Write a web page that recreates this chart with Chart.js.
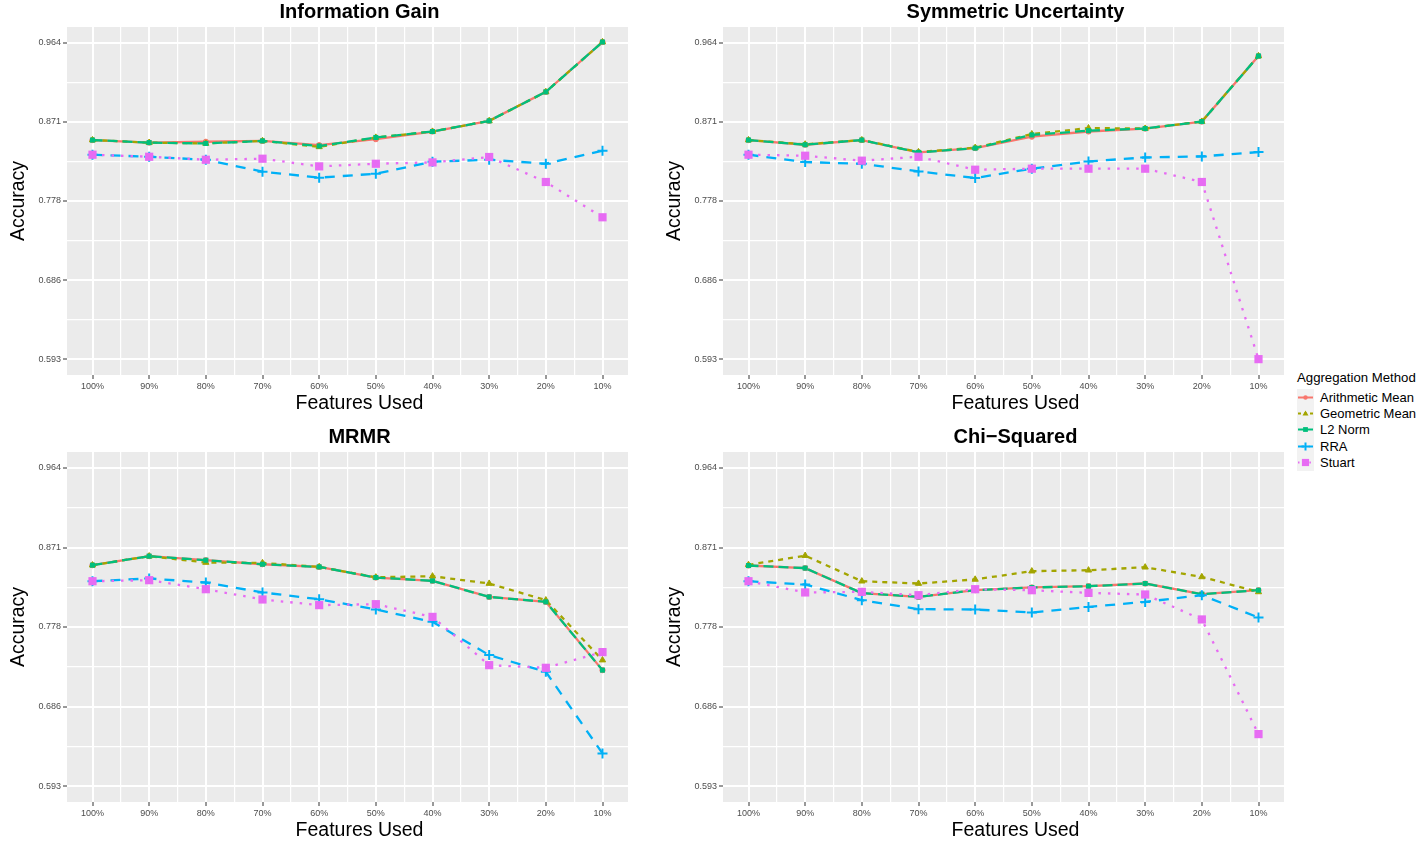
<!DOCTYPE html>
<html>
<head>
<meta charset="utf-8">
<script src="https://cdn.jsdelivr.net/npm/chart.js@4.4.0/dist/chart.umd.min.js"></script>
<style>
  body { margin: 0; background: #fff; width: 1419px; height: 841px; position: relative; overflow: hidden;
         font-family: "Liberation Sans", Arial, sans-serif; }
  canvas { position: absolute; }
  #legend { position: absolute; left: 1297px; top: 370px; color: #000; }
  #legend .ttl { font-size: 13.2px; margin-bottom: 4px; }
  #legend .row { display: flex; align-items: center; height: 16.4px; font-size: 13px; }
  #legend svg { margin-right: 6px; }
</style>
</head>
<body>
<canvas id="c1" width="640" height="418" style="left:0;top:0"></canvas>
<canvas id="c2" width="640" height="418" style="left:656px;top:0"></canvas>
<canvas id="c3" width="640" height="420" style="left:0;top:425px"></canvas>
<canvas id="c4" width="640" height="420" style="left:656px;top:425px"></canvas>
<div id="legend"></div>
<script>
const categories = ['100%', '90%', '80%', '70%', '60%', '50%', '40%', '30%', '20%', '10%'];
const yTickValues = [0.593, 0.6857, 0.7785, 0.8712, 0.964];
const yTickLabels = ['0.593', '0.686', '0.778', '0.871', '0.964'];
const methods = ['Arithmetic Mean', 'Geometric Mean', 'L2 Norm', 'RRA', 'Stuart'];

// Information Gain
const igArith  = [0.850, 0.847, 0.848, 0.849, 0.844, 0.851, 0.860, 0.8725, 0.9065, 0.965];
const igGeom   = [0.850, 0.847, 0.846, 0.849, 0.842, 0.853, 0.860, 0.8725, 0.9065, 0.965];
const igL2     = [0.850, 0.847, 0.846, 0.849, 0.843, 0.853, 0.860, 0.8725, 0.9065, 0.965];
const igRRA    = [0.8328, 0.8304, 0.8269, 0.8129, 0.8059, 0.8105, 0.8246, 0.8269, 0.8222, 0.8374];
const igStuart = [0.8328, 0.8304, 0.8269, 0.8281, 0.8191, 0.8222, 0.8238, 0.8301, 0.8008, 0.7594];

// Symmetric Uncertainty
const suArith  = [0.850, 0.8445, 0.850, 0.8355, 0.8405, 0.854, 0.860, 0.8635, 0.8717, 0.9486];
const suGeom   = [0.850, 0.845, 0.850, 0.836, 0.841, 0.857, 0.864, 0.8635, 0.8717, 0.9486];
const suL2     = [0.850, 0.8445, 0.850, 0.8355, 0.8405, 0.856, 0.861, 0.8635, 0.8717, 0.9486];
const suRRA    = [0.8328, 0.8242, 0.8222, 0.8132, 0.8055, 0.8164, 0.8249, 0.8296, 0.8308, 0.8359];
const suStuart = [0.8328, 0.8316, 0.8258, 0.8304, 0.8152, 0.8164, 0.8164, 0.8164, 0.8008, 0.593];

// MRMR
const mrArith  = [0.8506, 0.8611, 0.8564, 0.8517, 0.8486, 0.8362, 0.8323, 0.8136, 0.8078, 0.7282];
const mrGeom   = [0.8506, 0.8611, 0.8537, 0.8532, 0.8486, 0.8365, 0.8377, 0.8292, 0.8098, 0.7399];
const mrL2     = [0.8506, 0.8611, 0.8564, 0.8517, 0.8486, 0.8362, 0.8323, 0.8136, 0.8078, 0.7282];
const mrRRA    = [0.8319, 0.8351, 0.8304, 0.8188, 0.8109, 0.7989, 0.7845, 0.7457, 0.7262, 0.6311];
const mrStuart = [0.8319, 0.8331, 0.8226, 0.8106, 0.8040, 0.8051, 0.7903, 0.7340, 0.7309, 0.7492];

// Chi-Squared
const csArith  = [0.8502, 0.8472, 0.8180, 0.8136, 0.8214, 0.8246, 0.8261, 0.8292, 0.8168, 0.8214];
const csGeom   = [0.8510, 0.8617, 0.8319, 0.8292, 0.8340, 0.8436, 0.8447, 0.8482, 0.8369, 0.8194];
const csL2     = [0.8502, 0.8472, 0.8180, 0.8136, 0.8214, 0.8246, 0.8261, 0.8292, 0.8168, 0.8214];
const csRRA    = [0.8319, 0.8281, 0.8098, 0.7993, 0.7989, 0.7954, 0.8019, 0.8078, 0.8156, 0.7896];
const csStuart = [0.8319, 0.8188, 0.8195, 0.8156, 0.8226, 0.8214, 0.8183, 0.8164, 0.7873, 0.6536];

// look of each aggregation method (ggplot default hues / linetypes)
const styles = [
  { color: '#F8766D', dash: [],      point: 'circle',   radius: 2.6, bw: 1 },
  { color: '#A3A500', dash: [5, 5],  point: 'triangle', radius: 3.6, bw: 1 },
  { color: '#00BF7D', dash: [10, 5], point: 'rect',     radius: 3.6, bw: 0 },
  { color: '#00B0F6', dash: [10, 8], point: 'cross',    radius: 5,   bw: 2 },
  { color: '#E76BF3', dash: [2.5, 7],point: 'rect',     radius: 5.8, bw: 0 }
];

const FONT = '"Liberation Sans", Arial, sans-serif';
const yMin = yTickValues[0] - 0.0186;
const yMax = yTickValues[yTickValues.length - 1] + 0.0186;

function isMajorY(v) {
  return yTickValues.some(t => Math.abs(t - v) < 1e-6);
}

const panelBg = {
  id: 'panelBg',
  beforeDraw(chart) {
    const { ctx, chartArea: a } = chart;
    ctx.save();
    ctx.fillStyle = '#EBEBEB';
    ctx.fillRect(a.left, a.top, a.right - a.left, a.bottom - a.top);
    ctx.restore();
  }
};

// panel title and x-axis title, centred a little right of the panel like the original
const panelText = {
  id: 'panelText',
  afterDraw(chart, args, opts) {
    const { ctx, chartArea: a } = chart;
    const cx = (a.left + a.right) / 2 + 12;
    ctx.save();
    ctx.fillStyle = '#000';
    ctx.textAlign = 'center';
    ctx.textBaseline = 'middle';
    ctx.font = 'bold 20px ' + FONT;
    ctx.fillText(opts.text, cx, 12);
    ctx.font = '19.5px ' + FONT;
    ctx.fillText('Features Used', cx, a.bottom + 29);
    ctx.restore();
  }
};

function makePanel(id, title, series) {
  const datasets = series.map((vals, k) => {
    const s = styles[k];
    return {
      label: methods[k],
      data: vals.map((v, i) => ({ x: i, y: v })),
      borderColor: s.color,
      backgroundColor: s.color,
      borderWidth: 2.3,
      borderDash: s.dash,
      borderCapStyle: 'butt',
      pointStyle: s.point,
      pointRadius: s.radius,
      pointBorderWidth: s.bw,
      pointBackgroundColor: s.color,
      pointBorderColor: s.color,
      tension: 0,
      order: series.length - k
    };
  });

  new Chart(document.getElementById(id), {
    type: 'line',
    data: { datasets },
    plugins: [panelBg, panelText],
    options: {
      responsive: false,
      animation: false,
      devicePixelRatio: 1,
      layout: { padding: { top: 27, right: 12, bottom: 3, left: 0 } },
      plugins: {
        legend: { display: false },
        tooltip: { enabled: false },
        panelText: { text: title }
      },
      scales: {
        x: {
          type: 'linear',
          min: -0.45,
          max: categories.length - 1 + 0.45,
          afterBuildTicks: (s) => {
            const t = [];
            for (let i = 0; i <= (categories.length - 1) * 2; i++) t.push({ value: i / 2 });
            s.ticks = t;
          },
          afterFit: (s) => { s.height = 40; },
          ticks: {
            autoSkip: false, maxRotation: 0, minRotation: 0, padding: 2,
            color: '#4D4D4D', font: { size: 9, family: FONT },
            callback: (v) => Number.isInteger(v) ? categories[v] : ''
          },
          grid: {
            color: '#FFFFFF',
            lineWidth: (c) => (c.tick && Number.isInteger(c.tick.value)) ? 2 : 1.2,
            tickColor: (c) => (c.tick && Number.isInteger(c.tick.value)) ? '#333333' : 'rgba(0,0,0,0)',
            tickLength: 4,
            tickWidth: 1
          },
          border: { display: false },
          title: { display: false }
        },
        y: {
          type: 'linear',
          min: yMin,
          max: yMax,
          afterBuildTicks: (s) => {
            const t = [];
            yTickValues.forEach((v, i) => {
              t.push({ value: v });
              if (i < yTickValues.length - 1) t.push({ value: (v + yTickValues[i + 1]) / 2 });
            });
            s.ticks = t;
          },
          afterFit: (s) => { s.width = 67; },
          ticks: {
            autoSkip: false, padding: 2,
            color: '#4D4D4D', font: { size: 9, family: FONT },
            callback: (v) => {
              const i = yTickValues.findIndex(t => Math.abs(t - v) < 1e-6);
              return i >= 0 ? yTickLabels[i] : '';
            }
          },
          grid: {
            color: '#FFFFFF',
            lineWidth: (c) => (c.tick && isMajorY(c.tick.value)) ? 2 : 1.2,
            tickColor: (c) => (c.tick && isMajorY(c.tick.value)) ? '#333333' : 'rgba(0,0,0,0)',
            tickLength: 4,
            tickWidth: 1
          },
          border: { display: false },
          title: {
            display: true, text: 'Accuracy', color: '#000',
            font: { size: 19.5, family: FONT }, padding: { top: 7, bottom: 0 }
          }
        }
      }
    }
  });
}

makePanel('c1', 'Information Gain', [igArith, igGeom, igL2, igRRA, igStuart]);
makePanel('c2', 'Symmetric Uncertainty', [suArith, suGeom, suL2, suRRA, suStuart]);
makePanel('c3', 'MRMR', [mrArith, mrGeom, mrL2, mrRRA, mrStuart]);
makePanel('c4', 'Chi\u2212Squared', [csArith, csGeom, csL2, csRRA, csStuart]);

// legend
function keySvg(s) {
  const c = s.color;
  let mark = '';
  if (s.point === 'circle') mark = `<circle cx="8.5" cy="8.5" r="2.2" fill="${c}"/>`;
  else if (s.point === 'triangle') mark = `<polygon points="8.5,5.5 11.5,10.5 5.5,10.5" fill="${c}"/>`;
  else if (s.point === 'cross') mark = `<path d="M8.5 4.5V12.5M4.5 8.5H12.5" stroke="${c}" stroke-width="2"/>`;
  else {
    const h = s.radius > 5 ? 3.6 : 2.4;
    mark = `<rect x="${8.5 - h}" y="${8.5 - h}" width="${2 * h}" height="${2 * h}" fill="${c}"/>`;
  }
  const dash = s.dash.length ? `stroke-dasharray="${s.dash.map(d => d * 0.6).join(' ')}"` : '';
  return `<svg width="17" height="17"><rect width="17" height="17" fill="#F2F2F2"/>` +
         `<line x1="1" y1="8.5" x2="16" y2="8.5" stroke="${c}" stroke-width="2" ${dash}/>${mark}</svg>`;
}
const lg = document.getElementById('legend');
let html = '<div class="ttl">Aggregation Method</div>';
methods.forEach((m, k) => {
  html += `<div class="row">${keySvg(styles[k])}<span>${m}</span></div>`;
});
lg.innerHTML = html;
</script>
</body>
</html>
